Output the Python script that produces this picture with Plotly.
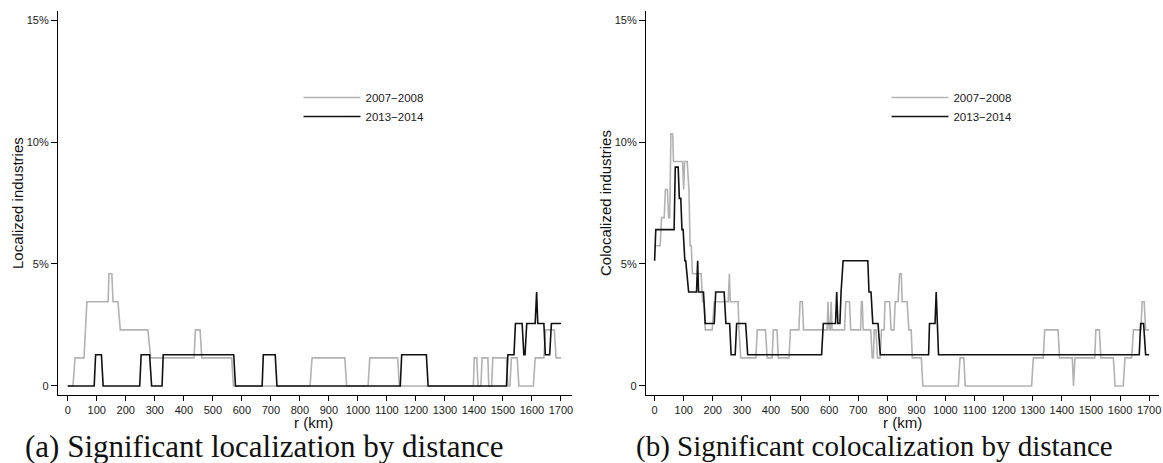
import plotly.graph_objects as go

# ---------------- data (percent of industries) ----------------
# Panel (a): localization
loc_0708_r = [0, 18, 25, 56, 66, 139, 142, 152, 156, 173, 181, 276, 286, 435, 440, 456, 462, 565, 571,
              835, 842, 955, 961, 1035, 1041, 1137, 1143, 1398, 1401, 1410, 1414, 1424, 1428, 1448, 1451,
              1461, 1465, 1512, 1517, 1524, 1529, 1549, 1555, 1605, 1611, 1641, 1647, 1677, 1683, 1700]
loc_0708_v = [0, 0, 1.15, 1.15, 3.45, 3.45, 4.6, 4.6, 3.45, 3.45, 2.3, 2.3, 1.15, 1.15, 2.3, 2.3, 1.15, 1.15, 0,
              0, 1.15, 1.15, 0, 0, 1.15, 1.15, 0, 0, 1.15, 1.15, 0, 0, 1.15, 1.15, 0,
              0, 1.15, 1.15, 0, 0, 1.15, 1.15, 0, 0, 1.15, 1.15, 2.3, 2.3, 1.15, 1.15]

loc_1314_r = [0, 91, 96, 116, 122, 248, 253, 282, 289, 325, 329, 572, 578, 670, 674, 715, 721,
              1146, 1151, 1236, 1242, 1512, 1517, 1538, 1543, 1566, 1572, 1576, 1582, 1611, 1616, 1620,
              1641, 1646, 1661, 1667, 1700]
loc_1314_v = [0, 0, 1.28, 1.28, 0, 0, 1.28, 1.28, 0, 0, 1.28, 1.28, 0, 0, 1.28, 1.28, 0,
              0, 1.28, 1.28, 0, 0, 1.28, 1.28, 2.56, 2.56, 1.28, 1.28, 2.56, 2.56, 3.85, 2.56,
              2.56, 1.28, 1.28, 2.56, 2.56]

# Panel (b): colocalization
col_0708_r = [0, 19, 24, 33, 37, 44, 48, 52, 56, 62, 65, 96, 100, 103, 112, 118, 122, 126, 130, 160,
              165, 170, 174, 198, 205, 253, 257, 260, 287, 290, 296, 348, 353, 381, 387, 404, 408, 421,
              425, 462, 467, 496, 500, 508, 512, 593, 596, 600, 604, 607, 610, 653, 657, 670, 674, 708,
              711, 714, 717, 743, 748, 752, 755, 761, 766, 775, 780, 789, 792, 808, 813, 823, 827, 837,
              842, 848, 851, 868, 874, 882, 886, 917, 922, 1044, 1050, 1063, 1068, 1296, 1302, 1336,
              1341, 1387, 1392, 1436, 1440, 1445, 1513, 1517, 1529, 1534, 1577, 1583, 1611, 1617, 1640,
              1646, 1672, 1676, 1683, 1688, 1700]
col_0708_v = [5.75, 5.75, 6.9, 6.9, 8.05, 8.05, 6.9, 6.9, 10.34, 10.34, 9.2, 9.2, 8.05, 9.2, 9.2, 8.05,
              5.75, 5.75, 4.6, 4.6, 3.45, 3.45, 2.3, 2.3, 3.45, 3.45, 4.6, 3.45, 3.45, 2.3, 1.15, 1.15,
              2.3, 2.3, 1.15, 1.15, 2.3, 2.3, 1.15, 1.15, 2.3, 2.3, 3.45, 3.45, 2.3, 2.3, 3.45, 2.3,
              2.3, 3.45, 2.3, 2.3, 3.45, 3.45, 2.3, 2.3, 3.45, 3.45, 2.3, 2.3, 1.15, 1.15, 2.3, 2.3,
              1.15, 1.15, 2.3, 2.3, 3.45, 3.45, 2.3, 2.3, 3.45, 3.45, 4.6, 4.6, 3.45, 3.45, 2.3, 2.3,
              1.15, 1.15, 0, 0, 1.15, 1.15, 0, 0, 1.15, 1.15, 2.3, 2.3, 1.15, 1.15, 0, 1.15, 1.15,
              2.3, 2.3, 1.15, 1.15, 0, 0, 1.15, 1.15, 2.3, 2.3, 3.45, 3.45, 2.3, 2.3]

col_1314_r = [0, 4, 67, 71, 81, 85, 90, 94, 98, 104, 107, 117, 144, 148, 151, 168, 174, 205, 210, 239,
              245, 258, 263, 277, 282, 313, 320, 574, 580, 622, 626, 630, 637, 641, 648, 733, 737, 744,
              750, 768, 776, 942, 945, 964, 968, 976, 1666, 1671, 1681, 1688, 1700]
col_1314_v = [5.13, 6.41, 6.41, 8.97, 8.97, 7.69, 7.69, 6.41, 6.41, 5.13, 5.13, 3.85, 3.85, 5.13, 3.85,
              3.85, 2.56, 2.56, 3.85, 3.85, 2.56, 2.56, 1.28, 1.28, 2.56, 2.56, 1.28, 1.28, 2.56, 2.56,
              3.85, 2.56, 2.56, 3.85, 5.13, 5.13, 3.85, 3.85, 2.56, 2.56, 1.28, 1.28, 2.56, 2.56, 3.85,
              1.28, 1.28, 2.56, 2.56, 1.28, 1.28]

x_ticks = list(range(0, 1701, 100))
y_ticks = [0, 5, 10, 15]
y_ticktext = ["0", "5%", "10%", "15%"]
series_names = ["2007\u22122008", "2013\u22122014"]

GRAY = "#b2b2b2"
BLACK = "#111111"
W, H = 1163, 463

fig = go.Figure()
fig.add_trace(go.Scatter(x=loc_0708_r, y=loc_0708_v, mode="lines", name=series_names[0],
                         line=dict(color=GRAY, width=1.6), xaxis="x", yaxis="y", legend="legend"))
fig.add_trace(go.Scatter(x=loc_1314_r, y=loc_1314_v, mode="lines", name=series_names[1],
                         line=dict(color=BLACK, width=1.6), xaxis="x", yaxis="y", legend="legend"))
fig.add_trace(go.Scatter(x=col_0708_r, y=col_0708_v, mode="lines", name=series_names[0],
                         line=dict(color=GRAY, width=1.6), xaxis="x2", yaxis="y2", legend="legend2"))
fig.add_trace(go.Scatter(x=col_1314_r, y=col_1314_v, mode="lines", name=series_names[1],
                         line=dict(color=BLACK, width=1.6), xaxis="x2", yaxis="y2", legend="legend2"))

tickfont = dict(family="Liberation Sans, Arial, sans-serif", size=11, color="#1a1a1a")
xcommon = dict(tickvals=x_ticks, showline=True, linecolor="black", linewidth=1,
               ticks="outside", ticklen=5, tickcolor="black", tickwidth=1, showgrid=False,
               zeroline=False, tickfont=tickfont, fixedrange=True, ticklabeloverflow="allow")
ycommon = dict(range=[-0.37, 15.37], tickvals=y_ticks, ticktext=y_ticktext, showline=True,
               linecolor="black", linewidth=1, ticks="outside", ticklen=6, tickcolor="black",
               tickwidth=1, showgrid=False, zeroline=False, tickfont=tickfont, fixedrange=True)

ydom = [1 - 395 / H, 1 - 11 / H]
legfont = dict(family="Liberation Sans, Arial, sans-serif", size=11.5, color="#1a1a1a")

fig.update_layout(
    width=W, height=H, margin=dict(l=0, r=0, t=0, b=0),
    paper_bgcolor="white", plot_bgcolor="white",
    xaxis=dict(domain=[58 / W, 573 / W], anchor="y", range=[-34, 1738], **xcommon),
    yaxis=dict(domain=ydom, anchor="x", **ycommon),
    xaxis2=dict(domain=[647 / W, 1161 / W], anchor="y2", range=[-30, 1734], **xcommon),
    yaxis2=dict(domain=ydom, anchor="x2", **ycommon),
    legend=dict(x=299 / W, y=1 - 83 / H, xanchor="left", yanchor="top", font=legfont,
                bgcolor="rgba(0,0,0,0)", itemwidth=57),
    legend2=dict(x=888 / W, y=1 - 83 / H, xanchor="left", yanchor="top", font=legfont,
                 bgcolor="rgba(0,0,0,0)", itemwidth=57),
    showlegend=True,
)

titlefont = dict(family="Liberation Sans, Arial, sans-serif", size=15, color="#111")
capfont_a = dict(family="Liberation Serif, Times New Roman, serif", size=31, color="#111")
capfont_b = dict(family="Liberation Serif, Times New Roman, serif", size=29, color="#111")
annots = [
    dict(text="Localized industries", x=17 / W, y=1 - 203 / H, textangle=-90, font=titlefont),
    dict(text="Colocalized industries", x=606 / W, y=1 - 203 / H, textangle=-90, font=titlefont),
    dict(text="r (km)", x=314 / W, y=1 - 422 / H, font=titlefont),
    dict(text="r (km)", x=904 / W, y=1 - 422 / H, font=titlefont),
    dict(text="(a) Significant localization by distance", x=265 / W, y=1 - 446 / H, font=capfont_a),
    dict(text="(b) Significant colocalization by distance", x=876 / W, y=1 - 446 / H, font=capfont_b),
]
for a in annots:
    fig.add_annotation(xref="paper", yref="paper", showarrow=False, xanchor="center",
                       yanchor="middle", **a)

fig.write_html("out.html", config={"displayModeBar": False},
               post_script="document.body.style.margin='0';document.body.style.overflow='hidden';")
